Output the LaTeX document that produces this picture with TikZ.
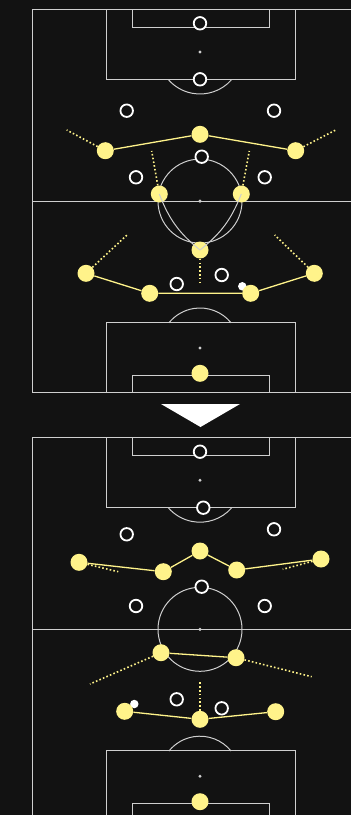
\documentclass[tikz,border=0pt]{standalone}
\usepackage{xcolor}
\usepackage{tikz}
\definecolor{bg}{HTML}{121212}
\definecolor{hl}{HTML}{FFF38A}
\definecolor{chalk}{HTML}{CFCFCF}
\tikzset{
  mate/.style={circle,fill=hl,minimum size=17pt,inner sep=0pt},
  opp/.style={circle,draw=white,fill=bg,line width=1.8pt,minimum size=12.5pt,inner sep=0pt},
  ballc/.style={circle,fill=white,minimum size=8.5pt,inner sep=0pt},
  chalkline/.style={chalk,line width=1pt},
  link/.style={draw=hl,line width=1.3pt},
  runline/.style={draw=hl,line width=1.6pt,dash pattern=on 1.6pt off 2.2pt},
  lane/.style={draw=chalk,line width=1pt},
}

\begin{document}
\begin{tikzpicture}[x=1pt,y=-1pt]
\fill[bg] (0,0) rectangle (351,815);
\useasboundingbox (0,0) rectangle (351,815);
\clip (0,0) rectangle (351,815);
% two pitches
\foreach \oy in {9.5,437.7}{
\begin{scope}[shift={(0,\oy)},chalkline]
\draw (32,0) rectangle (380,383.2);
\draw (32,191.6) -- (380,191.6);
\draw (200,191.6) circle[radius=42];
\draw (106,0) rectangle (295,70);
\draw (132,0) rectangle (269,17.5);
\draw (200,42.5) ++(41:42) arc[start angle=41,end angle=139,radius=42];
\draw (106,383.2) rectangle (295,313.2);
\draw (132,383.2) rectangle (269,365.7);
\draw (200,338.5) ++(-39:40) arc[start angle=-39,end angle=-141,radius=40];
\foreach \sy in {42.5,191.6,338.5} \fill (200,\sy) circle[radius=1.7];
\end{scope}}
\fill[white] (161,404) -- (240,404) -- (200.5,427) -- cycle;

% before
\foreach \x/\y [count=\i] in {200/23.3,200/79.3,126.7/110.7,274/110.7,201.7/156.7,136/177.3,264.7/177.3,176.7/284,221.7/275}
  \node[opp] (a-o\i) at (\x,\y) {};
\node[ballc] (a-ball) at (242.3,286.3) {};
\node[mate] (a-gk) at (200,373.3) {};
\node[mate] (a-lb) at (86,273.3) {};
\node[mate] (a-lcb) at (149.7,293.3) {};
\node[mate] (a-rcb) at (250.7,293.3) {};
\node[mate] (a-rb) at (314.3,273.3) {};
\node[mate] (a-dm) at (200,250) {};
\node[mate] (a-lcm) at (159.3,194) {};
\node[mate] (a-rcm) at (241.3,194) {};
\node[mate] (a-lw) at (105.3,150.7) {};
\node[mate] (a-st) at (200,134.3) {};
\node[mate] (a-rw) at (295.7,150.7) {};
\draw[link] (a-lw)--(a-st)--(a-rw);
\draw[link] (a-lb)--(a-lcb)--(a-rcb)--(a-rb);
\draw[lane] (a-lcm.center) to[bend right=15] (a-dm.center);
\draw[lane] (a-rcm.center) to[bend left=15] (a-dm.center);
\coordinate (a-lw-to) at (66.7,130);
\coordinate (a-rw-to) at (335.7,130);
\coordinate (a-lcm-to) at (151.7,151);
\coordinate (a-rcm-to) at (249.3,151);
\coordinate (a-lb-to) at (127,235);
\coordinate (a-rb-to) at (274.7,235);
\coordinate (a-dm-to) at (200,284.3);
\foreach \p in {lw,rw,lcm,rcm,lb,rb,dm} \draw[runline] (a-\p)--(a-\p-to);

% after
\foreach \x/\y [count=\i] in {200/451.7,203.3/507.7,126.7/534.3,274/529.3,201.7/586.7,136/606,264.7/606,176.7/699.3,221.7/708.3}
  \node[opp] (b-o\i) at (\x,\y) {};
\node[ballc] (b-ball) at (134.3,704) {};
\node[mate] (b-gk) at (200,801.7) {};
\node[mate] (b-lb) at (124.7,711.3) {};
\node[mate] (b-cb) at (200,719.3) {};
\node[mate] (b-rb) at (275.7,711.7) {};
\node[mate] (b-lcm) at (161,652.7) {};
\node[mate] (b-rcm) at (236,657.7) {};
\node[mate] (b-lw) at (79,562.3) {};
\node[mate] (b-lam) at (163.3,571.7) {};
\node[mate] (b-st) at (200,551) {};
\node[mate] (b-ram) at (236.7,570) {};
\node[mate] (b-rw) at (321,559) {};
\draw[link] (b-lw)--(b-lam)--(b-st)--(b-ram)--(b-rw);
\draw[link] (b-lcm)--(b-rcm);
\draw[link] (b-lb)--(b-cb)--(b-rb);
\coordinate (b-lw-to) at (118.3,571.7);
\coordinate (b-rw-to) at (282.7,569.3);
\coordinate (b-lcm-to) at (90,684);
\coordinate (b-rcm-to) at (311.7,676.7);
\coordinate (b-cb-to) at (200,682.3);
\foreach \p in {lw,rw,lcm,rcm,cb} \draw[runline] (b-\p)--(b-\p-to);
\end{tikzpicture}
\end{document}
